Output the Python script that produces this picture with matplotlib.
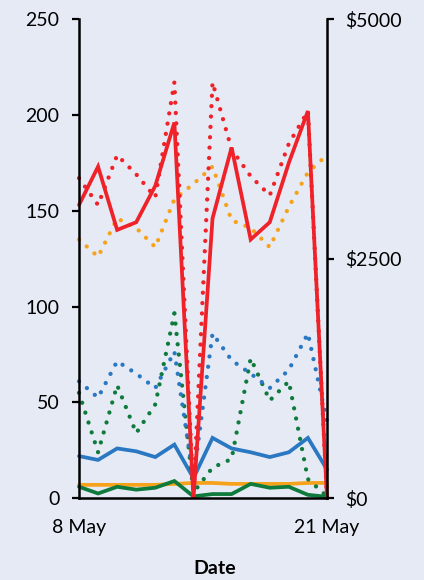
import matplotlib.pyplot as plt
from matplotlib.ticker import FuncFormatter

plt.rcParams['font.family'] = ['Lato', 'DejaVu Sans']

# --- Data ---
days = ["8 May", "9 May", "10 May", "11 May", "12 May", "13 May", "14 May",
        "15 May", "16 May", "17 May", "18 May", "19 May", "20 May", "21 May"]

red_solid = [153, 173, 140, 144, 163, 196, 0, 146, 183, 135, 144, 175, 202, 0]
red_dotted = [167, 153, 179, 169, 157, 217, 0, 217, 182, 168, 158, 185, 202, 0]
orange_solid = [7, 7, 7, 7, 7, 7.5, 8, 8, 7.5, 7.5, 7.5, 7.5, 8, 8]
orange_dotted = [135, 126, 146, 141, 131, 156, 164, 173, 145, 141, 131, 152, 170, 179]
blue_solid = [22, 20, 26, 24.5, 21.5, 28, 10.5, 31.5, 26, 24, 21.5, 24, 31.5, 15]
blue_dotted = [61, 52.5, 71.5, 65, 57.5, 76.5, 10.5, 86, 72, 65, 57.5, 67, 86, 40]
green_solid = [6, 2.5, 6, 4.5, 5.5, 9, 1, 2.2, 2.2, 7.5, 5.5, 6, 1.8, 0.8]
green_dotted = [55, 24, 59, 34, 49, 96.5, 3, 16, 20.5, 73, 51, 61, 10, 1]

left_ticks = [0, 50, 100, 150, 200, 250]
right_ticks = [0, 2500, 5000]

# colours
bg = '#e6eaf5'
red = '#ee2228'
orange = '#f7a21b'
blue = '#2a78c2'
green = '#0e7a3c'

x = list(range(len(days)))

fig = plt.figure(figsize=(4.24, 5.80), dpi=100, facecolor=bg)
ax = fig.add_axes([0.1863, 0.1409, 0.5849, 0.8263])
ax.set_facecolor(bg)

solid_kw = dict(linewidth=2.7, solid_capstyle='round', solid_joinstyle='miter', clip_on=False)
dot_kw = dict(linewidth=3.1, linestyle=(0, (0.01, 2.4)), dash_capstyle='round', clip_on=False)

# --- Lines ---
ax.plot(x, orange_solid, color=orange, **solid_kw)
ax.plot(x, green_solid, color=green, **solid_kw)
ax.plot(x, blue_solid, color=blue, **solid_kw)
ax.plot(x, green_dotted, color=green, **dot_kw)
ax.plot(x, blue_dotted, color=blue, **dot_kw)
ax.plot(x, orange_dotted, color=orange, **dot_kw)
ax.plot(x, red_dotted, color=red, **dot_kw)
ax.plot(x, red_solid, color=red, **solid_kw)

# --- Axes ---
ax.set_xlim(0, len(days) - 1)
ax.set_ylim(0, 250)
ax.set_yticks(left_ticks)
ax.set_xticks([0, len(days) - 1])
ax.set_xticklabels([days[0], days[-1]])
ax.tick_params(axis='x', length=0, pad=15, labelsize=14)
ax.tick_params(axis='y', length=5, width=1.6, pad=9, labelsize=14)

for side in ['top', 'right']:
    ax.spines[side].set_visible(False)
for side in ['left', 'bottom']:
    ax.spines[side].set_linewidth(1.8)

ax2 = ax.twinx()
ax2.set_ylim(0, 5000)
ax2.set_yticks(right_ticks)
ax2.yaxis.set_major_formatter(FuncFormatter(lambda v, p: "${:d}".format(int(v))))
ax2.tick_params(axis='y', length=5, width=1.6, pad=8, labelsize=14)
for side in ['top', 'left', 'bottom']:
    ax2.spines[side].set_visible(False)
ax2.spines['right'].set_linewidth(1.8)

fig.text(215 / 424, 1 - 568 / 580, "Date", ha='center', va='center',
         fontsize=14, fontweight='bold')

fig.savefig('out.png', dpi=100, facecolor=bg)
